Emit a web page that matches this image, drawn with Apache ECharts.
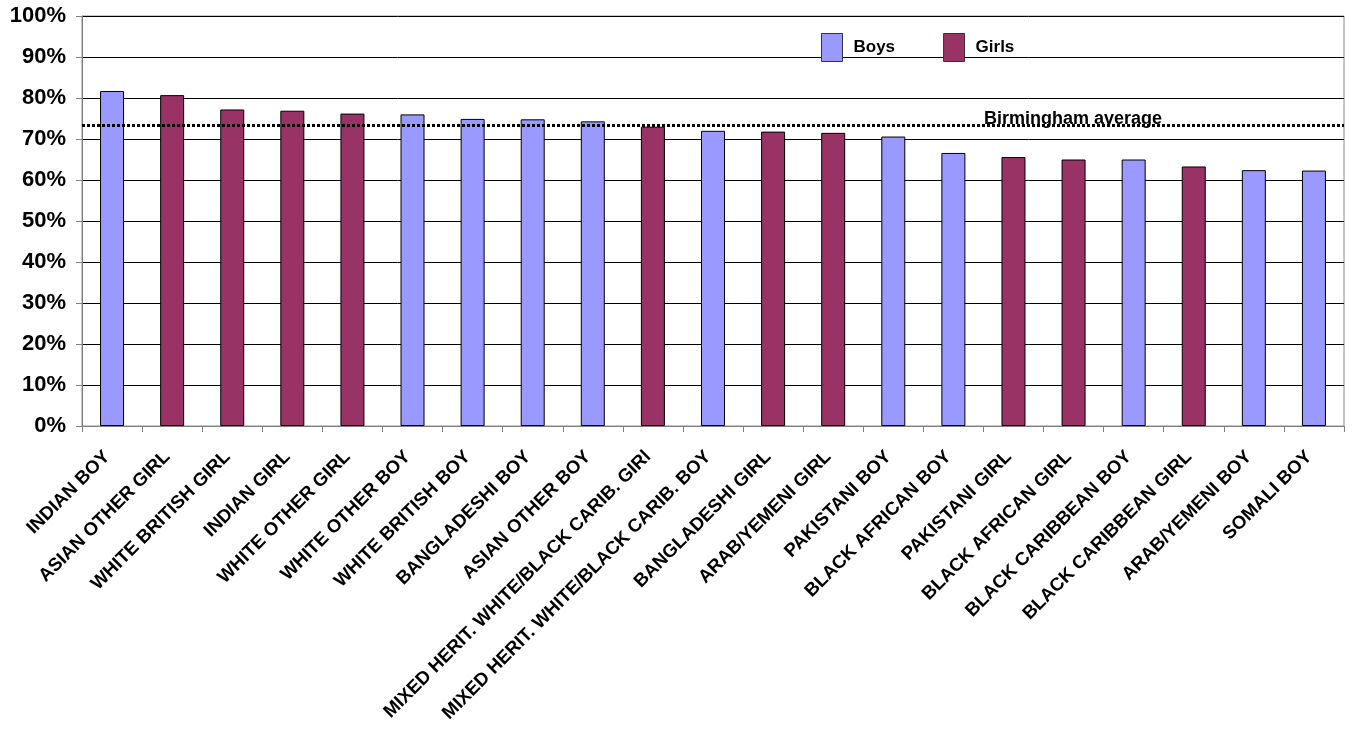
<!DOCTYPE html>
<html>
<head>
<meta charset="utf-8">
<script src="https://cdn.jsdelivr.net/npm/echarts@6/dist/echarts.min.js"></script>
<style>
html,body{margin:0;padding:0;background:#fff;}
#chart{width:1357px;height:729px;}
</style>
</head>
<body>
<div id="chart"></div>
<script>
const categories = ["INDIAN BOY","ASIAN OTHER GIRL","WHITE BRITISH GIRL","INDIAN GIRL","WHITE OTHER GIRL","WHITE OTHER BOY","WHITE BRITISH BOY","BANGLADESHI BOY","ASIAN OTHER BOY","MIXED HERIT. WHITE/BLACK CARIB. GIRl","MIXED HERIT. WHITE/BLACK CARIB. BOY","BANGLADESHI GIRL","ARAB/YEMENI GIRL","PAKISTANI BOY","BLACK AFRICAN BOY","PAKISTANI GIRL","BLACK AFRICAN GIRL","BLACK CARIBBEAN BOY","BLACK CARIBBEAN GIRL","ARAB/YEMENI BOY","SOMALI BOY"];
const values = [81.7,80.7,77.2,76.9,76.2,76.0,74.9,74.8,74.3,73.0,72.0,71.8,71.5,70.6,66.6,65.6,65.0,65.0,63.3,62.4,62.3];
const gender = ["B","G","G","G","G","B","B","B","B","G","B","G","G","B","B","G","G","B","G","B","B"];
const birminghamAverage = 73.4;
const yTicks = [0,10,20,30,40,50,60,70,80,90,100];

const boys = values.map((v,i)=> gender[i]==="B" ? v : null);
const girls = values.map((v,i)=> gender[i]==="G" ? v : null);

const FONT = "Arial, 'Liberation Sans', sans-serif";
const chart = echarts.init(document.getElementById('chart'));
chart.setOption({
  animation:false,
  backgroundColor:'#fff',
  grid:{left:82,right:13,top:16,bottom:303,show:true,borderColor:'#8c8c8c',borderWidth:1},
  legend:{
    left:816, top:28, itemWidth:21, itemHeight:28, itemGap:48,
    icon:'rect',
    textStyle:{fontFamily:FONT,fontWeight:'bold',fontSize:17,color:'#000',padding:[0,0,0,6]},
    itemStyle:{borderColor:'#333',borderWidth:1},
    data:['Boys','Girls']
  },
  xAxis:{
    type:'category', data:categories,
    axisLine:{lineStyle:{color:'#808080',width:1}},
    axisTick:{show:true,length:6,lineStyle:{color:'#808080'}},
    axisLabel:{interval:0,rotate:45,margin:23,padding:[0,7,0,0],fontFamily:FONT,fontWeight:'bold',fontSize:18.5,color:'#000'}
  },
  yAxis:{
    type:'value', min:0, max:100, interval:10,
    axisLine:{show:true,lineStyle:{color:'#808080',width:1}},
    axisTick:{show:true,length:6,inside:false,lineStyle:{color:'#808080'}},
    axisLabel:{margin:16,fontFamily:FONT,fontWeight:'bold',fontSize:22,color:'#000',
      formatter:v=> yTicks.indexOf(v)>=0 ? v+'%' : ''},
    splitLine:{lineStyle:{color:'#000',width:1}}
  },
  series:[
    {name:'Boys',type:'bar',data:boys,barWidth:24,barGap:'-100%',
     itemStyle:{color:'#9999FF',borderColor:'#000',borderWidth:1},
     markLine:{
       silent:true,symbol:['none','none'],
       lineStyle:{color:'#000',width:3,type:[3,2],cap:'butt'},
       label:{show:true,position:'insideEndTop',formatter:'Birmingham average',
         fontFamily:FONT,fontWeight:'bold',fontSize:18,color:'#000',distance:-3,padding:[0,185,0,0]},
       data:[{yAxis:birminghamAverage}]
     }},
    {name:'Girls',type:'bar',data:girls,barWidth:24,
     itemStyle:{color:'#993366',borderColor:'#000',borderWidth:1}}
  ]
});
</script>
</body>
</html>
